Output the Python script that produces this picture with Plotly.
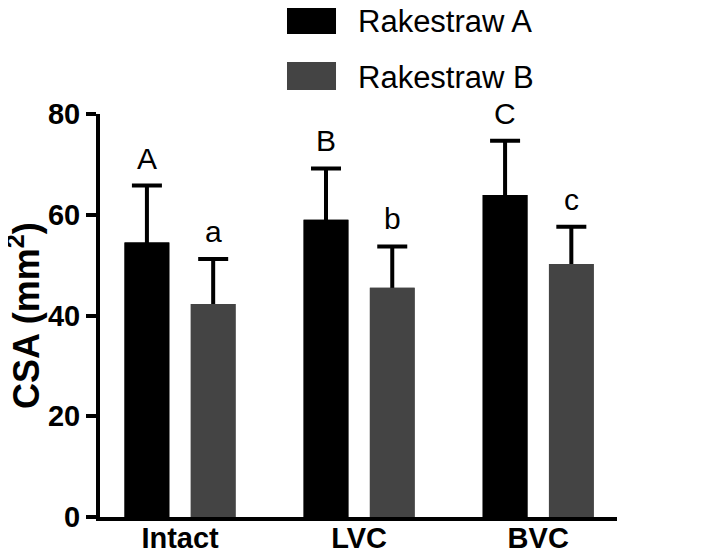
import plotly.graph_objects as go

categories = ['Intact', 'LVC', 'BVC']
series_names = ['Rakestraw A', 'Rakestraw B']
mean_a = [54.5, 59.0, 63.9]
err_a = [11.3, 10.2, 10.8]
mean_b = [42.3, 45.5, 50.2]
err_b = [8.9, 8.2, 7.4]
letters_a = ['A', 'B', 'C']
letters_b = ['a', 'b', 'c']
y_title = '<b>CSA (mm<sup>2</sup>)</b>'

colors = ['#000000', '#444444']
font_family = 'Arial, "Liberation Sans", sans-serif'

series = [
    (series_names[0], mean_a, err_a, colors[0], -0.31),
    (series_names[1], mean_b, err_b, colors[1], 0.06),
]

fig = go.Figure()
# bars with symmetric error bars; lower half gets hidden by a second bar on top
for name, means, errs, color, offset in series:
    fig.add_trace(go.Bar(
        x=categories, y=means, name=name,
        marker=dict(color=color, line_width=0),
        width=0.25, offset=offset,
        error_y=dict(type='data', array=errs, color='black', thickness=4, width=15),
        showlegend=False,
    ))
for name, means, errs, color, offset in series:
    fig.add_trace(go.Bar(
        x=categories, y=means, name=name,
        marker=dict(color=color, line_width=0),
        width=0.25, offset=offset,
        showlegend=False, hoverinfo='skip',
    ))

# letters above the error bars
annotations = []
for i in range(len(categories)):
    for lab, m, e, dx in [(letters_a[i], mean_a[i], err_a[i], -0.185),
                          (letters_b[i], mean_b[i], err_b[i], 0.185)]:
        annotations.append(dict(
            x=i + dx, y=m + e, text=lab, showarrow=False,
            yanchor='bottom', yshift=9,
            font=dict(size=30, color='black', family=font_family),
        ))

# custom legend: large swatches + labels
shapes = []
legend_rows = [(1.2705, 1.1985), (1.129, 1.0596)]
for (y1, y0), name, color in zip(legend_rows, series_names, colors):
    shapes.append(dict(type='rect', xref='paper', yref='paper',
                       x0=0.3617, x1=0.4565, y0=y0, y1=y1,
                       fillcolor=color, line_width=0))
    annotations.append(dict(
        xref='paper', yref='paper', x=0.495, y=(y0 + y1) / 2 - 0.004,
        xanchor='left', yanchor='middle', text=name, showarrow=False,
        font=dict(size=31, color='black', family=font_family),
    ))

# y axis title as a rotated annotation (standoff gets clamped by the margin)
annotations.append(dict(
    xref='paper', yref='paper', x=-0.148, y=0.5,
    xanchor='center', yanchor='middle', textangle=-90,
    text=y_title, showarrow=False,
    font=dict(size=36, color='black', family=font_family),
))

fig.update_layout(
    width=701, height=554,
    margin=dict(l=92, r=92, t=106, b=45),
    paper_bgcolor='white', plot_bgcolor='white',
    barmode='overlay',
    showlegend=False,
    annotations=annotations,
    shapes=shapes,
    font=dict(family=font_family, color='black'),
    xaxis=dict(
        range=[-0.447, 2.44], automargin=False,
        showline=True, linewidth=4, linecolor='black',
        ticks='', showgrid=False, zeroline=False, ticklabelstandoff=-8,
        tickfont=dict(size=29, family=font_family, weight='bold'),
    ),
    yaxis=dict(
        range=[0, 80], dtick=20, automargin=False,
        showline=True, linewidth=4, linecolor='black',
        ticks='outside', ticklen=10, tickwidth=4, tickcolor='black',
        showgrid=False, zeroline=False,
        tickfont=dict(size=29, family=font_family, weight='bold'),
    ),
)

fig.write_html('out.html')
